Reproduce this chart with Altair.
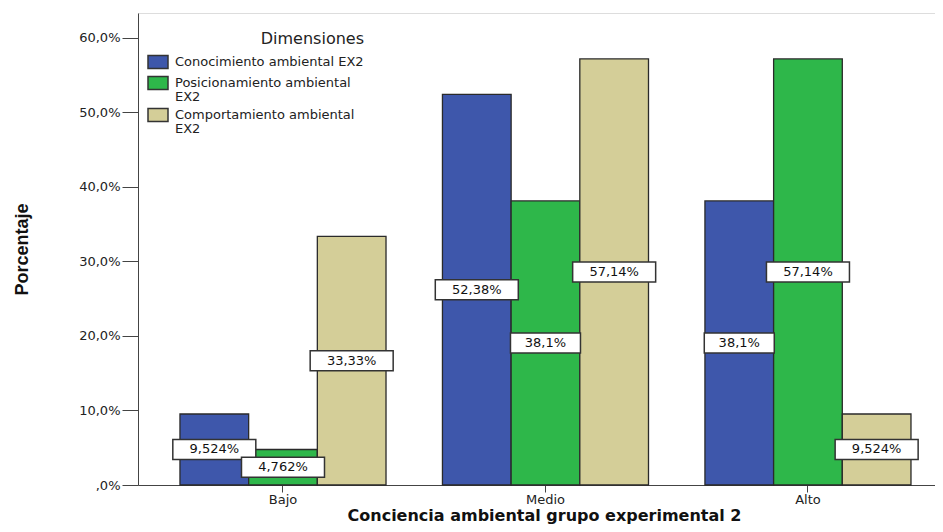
import altair as alt
import pandas as pd

categories = ["Bajo", "Medio", "Alto"]
series = [
    "Conocimiento ambiental EX2",
    "Posicionamiento ambiental EX2",
    "Comportamiento ambiental EX2",
]
conocimiento = [9.524, 52.38, 38.1]
posicionamiento = [4.762, 38.1, 57.14]
comportamiento = [33.33, 57.14, 9.524]
label_conocimiento = ["9,524%", "52,38%", "38,1%"]
label_posicionamiento = ["4,762%", "38,1%", "57,14%"]
label_comportamiento = ["33,33%", "57,14%", "9,524%"]
colors = ["#3E57AB", "#2EB74A", "#D4CE98"]
y_ticks = [0, 10, 20, 30, 40, 50, 60]

rows = []
for s, vals, labs in zip(series,
                         [conocimiento, posicionamiento, comportamiento],
                         [label_conocimiento, label_posicionamiento, label_comportamiento]):
    for c, v, l in zip(categories, vals, labs):
        rows.append({"nivel": c, "dimension": s, "valor": v, "etiqueta": l})
df = pd.DataFrame(rows)

FONT = "DejaVu Sans"
X_TITLE = "Conciencia ambiental grupo experimental 2"
Y_TITLE = "Porcentaje"

x_scale = alt.Scale(paddingInner=0.215, paddingOuter=0.1257, align=0.636)
y_scale = alt.Scale(domain=[0, 63.3], nice=False, zero=True)

x_enc = alt.X(
    "nivel:N", sort=categories, scale=x_scale, title=X_TITLE,
    axis=alt.Axis(
        labelAngle=0,
        labelFont=FONT, labelFontSize=13, labelColor="#222", labelPadding=1,
        tickSize=7, tickColor="#444", domainColor="#444",
        titleFont=FONT, titleFontSize=16, titleFontWeight="bold", titleColor="#111",
        titleX=406, titleY=35, titleBaseline="alphabetic", titleAlign="center",
    ),
)
xoff_enc = alt.XOffset("dimension:N", sort=series,
                       scale=alt.Scale(paddingInner=0, paddingOuter=0))
y_enc = alt.Y(
    "valor:Q", scale=y_scale, title=Y_TITLE,
    axis=alt.Axis(
        values=y_ticks, grid=False,
        labelExpr="datum.value == 0 ? ',0%' : replace(format(datum.value, '.1f'), '.', ',') + '%'",
        labelFont=FONT, labelFontSize=13, labelColor="#222", labelPadding=2,
        tickSize=16, tickColor="#444", domainColor="#444",
        titleFont="Liberation Sans", titleFontSize=18,
        titleFontWeight="bold", titleColor="#111", titleAngle=270,
        titleX=-116, titleY=236, titleAlign="center", titleBaseline="middle",
    ),
)

bars = alt.Chart(df).mark_bar(stroke="#2a2a2a", strokeWidth=1.3).encode(
    x=x_enc, xOffset=xoff_enc, y=y_enc,
    color=alt.Color(
        "dimension:N", sort=series,
        scale=alt.Scale(domain=series, range=colors),
        legend=alt.Legend(
            title="Dimensiones", orient="none", legendX=9, legendY=18,
            titleFont=FONT, titleFontSize=16, titleFontWeight="normal",
            titleColor="#222", titleAnchor="end", titlePadding=4,
            labelFont=FONT, labelFontSize=13, labelColor="#222", labelLimit=400,
            labelOffset=6, rowPadding=-4,
            symbolType="M-1,-0.65H1V0.65H-1Z", symbolSize=400,
            symbolStrokeColor="#333", symbolStrokeWidth=1.5,
            labelExpr="datum.label == 'Conocimiento ambiental EX2' ? datum.label : [replace(datum.label, ' EX2', ''), 'EX2']",
        ),
    ),
)

base = alt.Chart(df).transform_calculate(mid="datum.valor / 2")
pos = dict(
    x=alt.X("nivel:N", sort=categories, scale=x_scale, title=X_TITLE),
    xOffset=alt.XOffset("dimension:N", sort=series),
    y=alt.Y("mid:Q", scale=y_scale, title=Y_TITLE),
)

box_long = base.transform_filter("length(datum.etiqueta) >= 6").mark_point(
    shape="M-1,-0.24H1V0.24H-1Z", size=6889, filled=True, fill="white",
    stroke="#333", strokeWidth=1.5, opacity=1,
).encode(**pos)
box_short = base.transform_filter("length(datum.etiqueta) < 6").mark_point(
    shape="M-1,-0.286H1V0.286H-1Z", size=4900, filled=True, fill="white",
    stroke="#333", strokeWidth=1.5, opacity=1,
).encode(**pos)
texts = base.mark_text(font=FONT, fontSize=13, color="#111", baseline="middle").encode(
    text="etiqueta:N", **pos
)

chart = alt.layer(bars, box_long, box_short, texts).properties(
    width=797, height=472,
    padding={"left": 130, "top": 5, "right": 0, "bottom": 39},
    autosize="none",
).configure_view(
    fill="#F0F0F0", stroke="#555", strokeWidth=1
).configure(style={"guide-label": {"lineHeight": 14}})

chart.save("out.html", embed_options={"renderer": "svg", "actions": False})
